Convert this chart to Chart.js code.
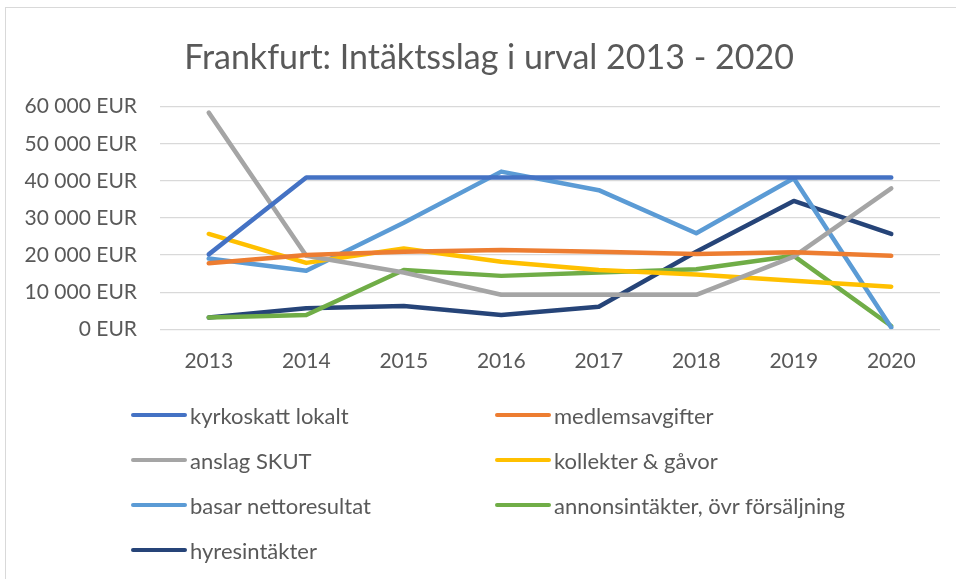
<!DOCTYPE html>
<html>
<head>
<meta charset="utf-8">
<script src="https://cdn.jsdelivr.net/npm/chart.js@4"></script>
<style>
  html, body { margin: 0; padding: 0; background: #fff; overflow: hidden; }
  #wrap { position: relative; width: 956px; height: 579px; overflow: hidden; }
  #frame { position: absolute; left: 5px; top: 7px; width: 1100px; height: 700px; border: 1px solid #d9d9d9; }
  #megaChart { position: absolute; left: 0; top: 0; }
  #chartTitle {
    position: absolute; left: 0; top: 36px; width: 978px; height: 41px;
    line-height: 40.8px; text-align: center; white-space: nowrap;
    font-family: Lato, sans-serif; font-size: 34px; color: #595959;
  }
  #legendBox {
    position: absolute; left: 131px; top: 392.5px;
    display: grid; grid-template-columns: 364px 360px; grid-auto-rows: 45px;
    font-family: Lato, sans-serif; font-size: 22px; color: #595959;
  }
  .legItem { display: flex; align-items: center; white-space: nowrap; }
  .legLine { display: inline-block; width: 56px; height: 4.5px; border-radius: 2.5px; margin-right: 3px; }
</style>
</head>
<body>
<div id="wrap">
  <div id="frame"></div>
  <canvas id="megaChart" width="956" height="579"></canvas>
  <div id="chartTitle">Frankfurt: Intäktsslag i urval 2013 - 2020</div>
  <div id="legendBox"></div>
</div>
<script>
const arrYears = ["2013", "2014", "2015", "2016", "2017", "2018", "2019", "2020"];

const arrKyrkoskatt = [20200, 40900, 40900, 40900, 40900, 40900, 40900, 40900];
const arrMedlemsavgifter = [17800, 20000, 20900, 21400, 20900, 20300, 20800, 19800];
const arrAnslagSkut = [58400, 19800, 15300, 9300, 9300, 9300, 19600, 38000];
const arrKollekter = [25700, 17900, 21800, 18200, 16000, 14800, 13100, 11500];
const arrBasar = [19100, 15800, 28700, 42500, 37500, 25900, 40700, 500];
const arrAnnons = [3200, 3850, 16000, 14400, 15300, 16200, 19800, 900];
const arrHyres = [3200, 5700, 6300, 3850, 6100, 20900, 34600, 25700];

const arrSeriesNames = [
  "kyrkoskatt lokalt",
  "medlemsavgifter",
  "anslag SKUT",
  "kollekter & gåvor",
  "basar nettoresultat",
  "annonsintäkter, övr försäljning",
  "hyresintäkter",
];
const arrSeriesValues = [arrKyrkoskatt, arrMedlemsavgifter, arrAnslagSkut, arrKollekter, arrBasar, arrAnnons, arrHyres];
const arrColors = ["#4472C4", "#ED7D31", "#A5A5A5", "#FFC000", "#5B9BD5", "#70AD47", "#264478"];

const arrTickValues = [0, 10000, 20000, 30000, 40000, 50000, 60000];

var datasets = [];
arrSeriesNames.forEach((name, index) => {
  datasets.push({
    label: name,
    data: arrSeriesValues[index],
    borderColor: arrColors[index],
    backgroundColor: arrColors[index],
    borderWidth: 4.5,
    pointRadius: 0,
    borderCapStyle: "round",
    borderJoinStyle: "round",
    tension: 0,
  });
});

function formatEur(value) {
  return String(value).replace(/\B(?=(\d{3})+(?!\d))/g, " ") + " EUR";
}

const chartEl = document.getElementById("megaChart");

window.megaChart = new Chart(chartEl, {
  type: "line",
  data: { labels: arrYears, datasets: datasets },
  options: {
    responsive: false,
    animation: false,
    // title is the html div above, so the top padding keeps room for it
    layout: { padding: { left: 0, right: 16, top: 106.7, bottom: 0 } },
    scales: {
      x: {
        offset: true,
        grid: { display: false, drawTicks: false },
        border: { display: false },
        ticks: { color: "#595959", font: { family: "Lato", size: 21 }, padding: 19 },
        afterFit: (scale) => { scale.height = 249.7; },
      },
      y: {
        min: 0,
        max: 60000,
        afterBuildTicks: (scale) => { scale.ticks = arrTickValues.map((v) => ({ value: v })); },
        grid: { color: "#d9d9d9", lineWidth: 1.3, drawTicks: false },
        border: { display: false },
        ticks: {
          color: "#595959",
          font: { family: "Lato", size: 21 },
          padding: 23,
          callback: (value) => formatEur(value),
        },
        afterFit: (scale) => { scale.width = 160; },
      },
    },
    plugins: {
      legend: { display: false },
      tooltip: { enabled: false },
      title: { display: false },
    },
  },
});

// legend in two columns like the original
var legendBox = document.getElementById("legendBox");
window.megaChart.data.datasets.forEach((ds) => {
  var item = document.createElement("div");
  item.className = "legItem";
  var line = document.createElement("span");
  line.className = "legLine";
  line.style.background = ds.borderColor;
  var txt = document.createElement("span");
  txt.textContent = ds.label;
  item.appendChild(line);
  item.appendChild(txt);
  legendBox.appendChild(item);
});
</script>
</body>
</html>
